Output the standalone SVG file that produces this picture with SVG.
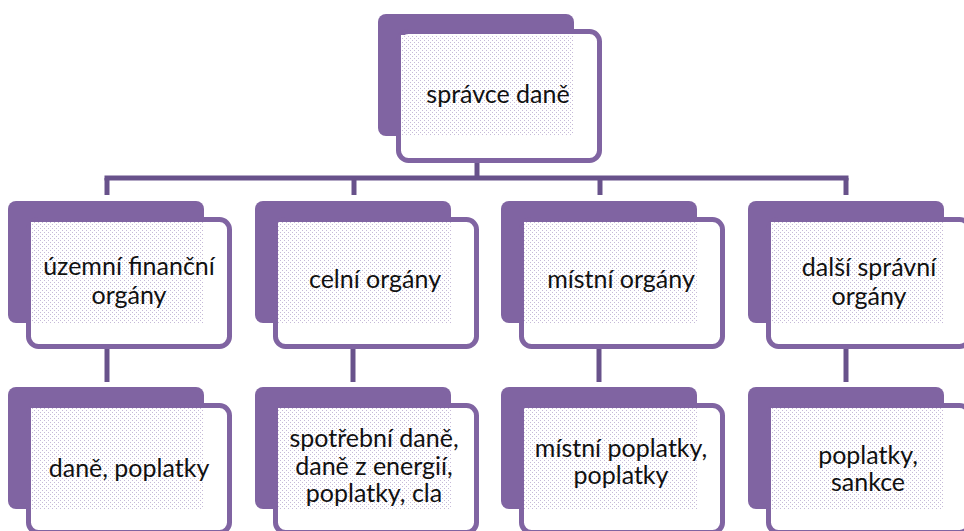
<svg xmlns="http://www.w3.org/2000/svg" width="964" height="531" viewBox="0 0 964 531">
<defs>
<pattern id="dots" width="4" height="4" patternUnits="userSpaceOnUse">
<rect width="4" height="4" fill="#ffffff"/>
<rect x="0" y="0" width="1" height="1" fill="#c6bad8"/>
<rect x="2" y="2" width="1" height="1" fill="#c6bad8"/>
</pattern>
</defs>
<style>
.back{fill:#8064a2}
.front{fill:#ffffff;stroke:#8064a2;stroke-width:5}
.dot{fill:url(#dots)}
.conn{stroke:#68528b;stroke-width:5;fill:none}
text{font-family:Lato,"Liberation Sans",sans-serif;font-size:25px;fill:#111;text-anchor:middle}
</style>
<rect width="964" height="531" fill="#ffffff"/>
<g id="connectors">
<line class="conn" x1="477" y1="160" x2="477" y2="178"/>
<line class="conn" x1="104.5" y1="178" x2="848.5" y2="178"/>
<line class="conn" x1="107" y1="178" x2="107" y2="195"/>
<line class="conn" x1="354" y1="178" x2="354" y2="195"/>
<line class="conn" x1="600" y1="178" x2="600" y2="195"/>
<line class="conn" x1="846" y1="178" x2="846" y2="195"/>
<line class="conn" x1="107" y1="345" x2="107" y2="382"/>
<line class="conn" x1="353" y1="345" x2="353" y2="382"/>
<line class="conn" x1="599" y1="345" x2="599" y2="382"/>
<line class="conn" x1="846" y1="345" x2="846" y2="382"/>
</g>
<g id="spravce">
<rect class="back" x="378" y="14" width="196" height="122" rx="8"/>
<rect class="front" x="398.5" y="31.5" width="201" height="129" rx="10"/>
<rect class="dot" x="401" y="35" width="173" height="101"/>
<text x="498" y="103">správce daně</text>
</g>
<g id="uzemni">
<rect class="back" x="8" y="201" width="196" height="122" rx="8"/>
<rect class="front" x="28.5" y="219.5" width="201" height="127" rx="10"/>
<rect class="dot" x="31" y="222" width="173" height="101"/>
<text x="129" y="275">územní finanční</text>
<text x="129" y="304">orgány</text>
</g>
<g id="celni">
<rect class="back" x="255" y="201" width="196" height="122" rx="8"/>
<rect class="front" x="275.5" y="219.5" width="201" height="127" rx="10"/>
<rect class="dot" x="278" y="222" width="173" height="101"/>
<text x="375" y="288">celní orgány</text>
</g>
<g id="mistni">
<rect class="back" x="501" y="201" width="196" height="122" rx="8"/>
<rect class="front" x="521.5" y="219.5" width="201" height="127" rx="10"/>
<rect class="dot" x="524" y="222" width="173" height="101"/>
<text x="621" y="288">místní orgány</text>
</g>
<g id="dalsi">
<rect class="back" x="748" y="201" width="196" height="122" rx="8"/>
<rect class="front" x="768.5" y="219.5" width="201" height="127" rx="10"/>
<rect class="dot" x="771" y="222" width="173" height="101"/>
<text x="869" y="276">další správní</text>
<text x="869" y="305">orgány</text>
</g>
<g id="dane-poplatky">
<rect class="back" x="8" y="387" width="196" height="122" rx="8"/>
<rect class="front" x="28.5" y="405.5" width="201" height="127" rx="10"/>
<rect class="dot" x="31" y="408" width="173" height="101"/>
<text x="129" y="477">daně, poplatky</text>
</g>
<g id="spotrebni">
<rect class="back" x="255" y="387" width="196" height="122" rx="8"/>
<rect class="front" x="275.5" y="405.5" width="201" height="127" rx="10"/>
<rect class="dot" x="278" y="408" width="173" height="101"/>
<text x="374" y="447">spotřební daně,</text>
<text x="374" y="474.5">daně z energií,</text>
<text x="374" y="502">poplatky, cla</text>
</g>
<g id="mistni-poplatky">
<rect class="back" x="501" y="387" width="196" height="122" rx="8"/>
<rect class="front" x="521.5" y="405.5" width="201" height="127" rx="10"/>
<rect class="dot" x="524" y="408" width="173" height="101"/>
<text x="621" y="457">místní poplatky,</text>
<text x="621" y="484">poplatky</text>
</g>
<g id="sankce">
<rect class="back" x="748" y="387" width="196" height="122" rx="8"/>
<rect class="front" x="768.5" y="405.5" width="201" height="127" rx="10"/>
<rect class="dot" x="771" y="408" width="173" height="101"/>
<text x="868" y="464">poplatky,</text>
<text x="868" y="491">sankce</text>
</g>
</svg>
